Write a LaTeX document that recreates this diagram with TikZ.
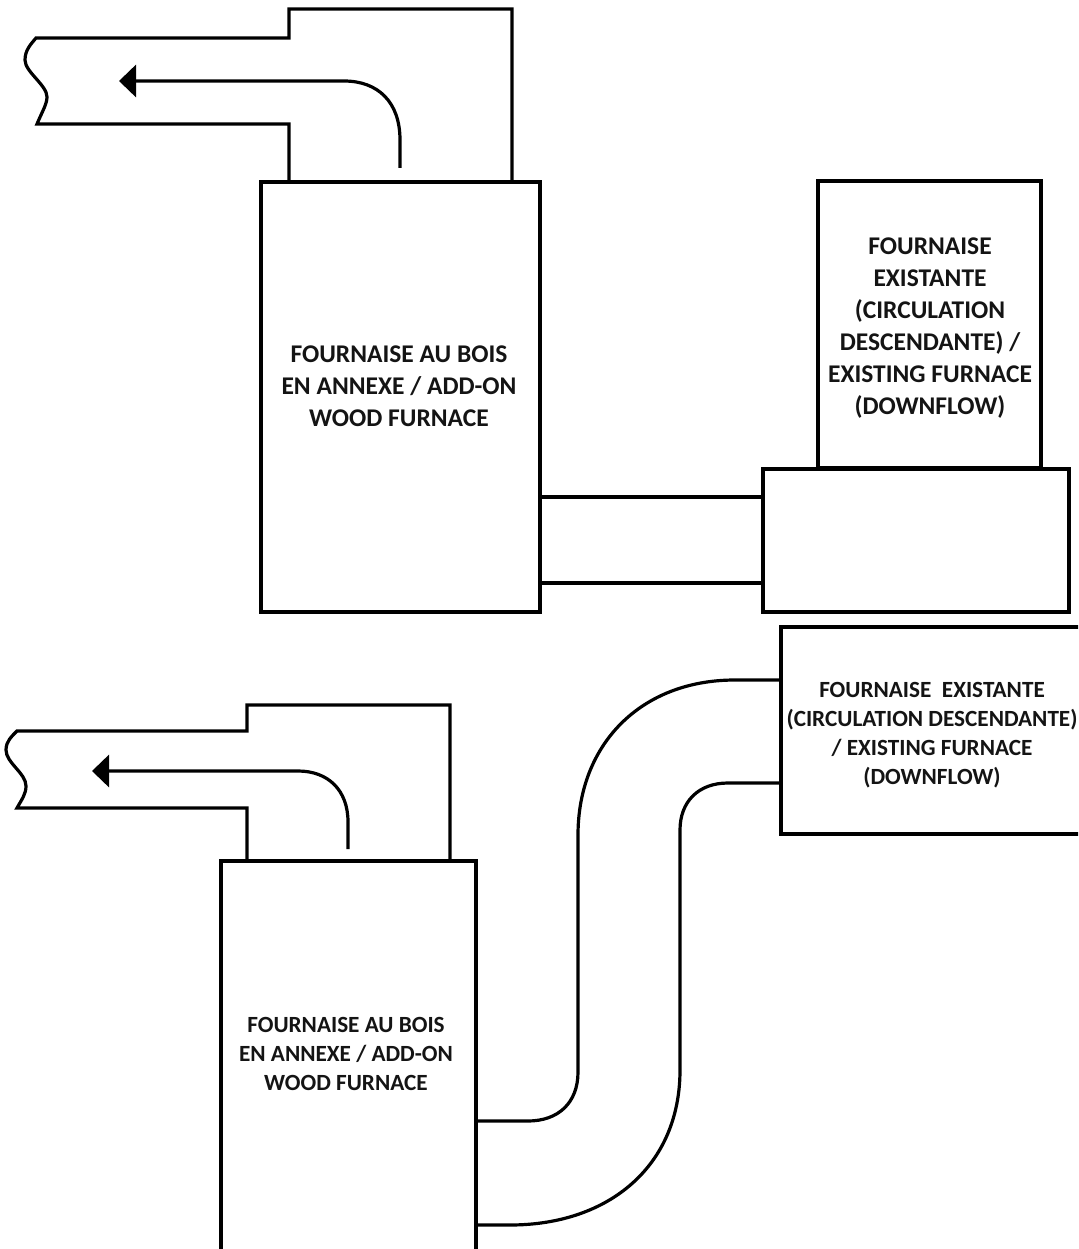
\documentclass[tikz,border=0pt]{standalone}
\usepackage{fontspec}
\setmainfont{Carlito}
\usetikzlibrary{arrows.meta}
\tikzset{
  x=1pt,y=-1pt,
  boxn/.style={draw=black,fill=white,line width=3.2pt,minimum width=0pt,minimum height=0pt,inner sep=0pt,outer sep=0pt,rectangle,anchor=north west},
  duct/.style={draw=black,line width=3.2pt,line join=miter},
  flow/.style={draw=black,line width=3.2pt,-{Triangle[length=17pt,width=32pt]}},
  lblA/.style={font=\fontsize{25.5}{32}\selectfont\bfseries,align=center,text=black!92,inner sep=0pt},
  lblB/.style={font=\fontsize{23.2}{29}\selectfont\bfseries,align=center,text=black!92,inner sep=0pt},
}
\begin{document}
\begin{tikzpicture}
\useasboundingbox (0,0) rectangle (1078,1249);
\clip (0,0) rectangle (1078,1249);
% ---- top group ----
\node[boxn,minimum width=279pt,minimum height=430pt] (woodA) at (261,182) {};
\node[boxn,minimum width=223pt,minimum height=287pt] (exA) at (818,181) {};
\node[boxn,minimum width=306pt,minimum height=143pt] (plenA) at (763,469) {};
\coordinate (flueAl) at (289,181);
\coordinate (flueAr) at (512,181);
\draw[duct] (flueAl) -- (289,124) -- (37,124)
  .. controls (42,112) and (47,104) .. (47,97)
  .. controls (47,85) and (25,72) .. (25,60)
  .. controls (25,50) and (31,44) .. (36,38)
  -- (289,38) -- (289,9) -- (512,9) -- (flueAr);
\coordinate (flowAs) at (400,168);
\coordinate (flowAe) at (119,81);
\draw[flow] (flowAs) -- (400,140) .. controls (400,102) and (378,81) .. (344,81) -- (flowAe);
\draw[duct] (woodA.east |- 0,497) -- (plenA.west |- 0,497);
\draw[duct] (woodA.east |- 0,583) -- (plenA.west |- 0,583);
\node[lblA] (tA) at (399,386) {FOURNAISE AU BOIS\\EN ANNEXE / ADD-ON\\WOOD FURNACE};
\node[lblA] (tB) at (930,328) {FOURNAISE\\EXISTANTE\\(CIRCULATION\\DESCENDANTE) /\\EXISTING FURNACE\\(DOWNFLOW)};
% ---- bottom group ----
\node[boxn,minimum width=255pt,minimum height=392pt] (woodB) at (221,861) {};
\node[boxn,minimum width=310pt,minimum height=207pt] (exB) at (781,627) {};
\coordinate (flueBl) at (247,860);
\coordinate (flueBr) at (450,860);
\draw[duct] (flueBl) -- (247,808) -- (17,808)
  .. controls (22,799) and (26,794) .. (26,786)
  .. controls (26,773) and (6,763) .. (6,750)
  .. controls (6,741) and (12,736) .. (17,731)
  -- (247,731) -- (247,705) -- (450,705) -- (flueBr);
\coordinate (flowBs) at (348,849);
\coordinate (flowBe) at (92,771);
\draw[flow] (flowBs) -- (348,822) .. controls (348,790) and (328,771) .. (298,771) -- (flowBe);
\draw[duct] (exB.west |- 0,680) -- (735,680) .. controls (640,680) and (578,745) .. (578,835)
  -- (578,1072) .. controls (578,1103) and (558,1121) .. (528,1121) -- (woodB.east |- 0,1121);
\draw[duct] (exB.west |- 0,783) -- (728,783) .. controls (698,783) and (680,802) .. (680,830)
  -- (680,1070) .. controls (680,1165) and (610,1225) .. (510,1225) -- (woodB.east |- 0,1225);
\node[lblB] (tC) at (346,1054) {FOURNAISE AU BOIS\\EN ANNEXE / ADD-ON\\WOOD FURNACE};
\node[lblB] (tD) at (932,735) {FOURNAISE\ \ EXISTANTE\\(CIRCULATION DESCENDANTE)\\/ EXISTING FURNACE\\(DOWNFLOW)};
\end{tikzpicture}
\end{document}
